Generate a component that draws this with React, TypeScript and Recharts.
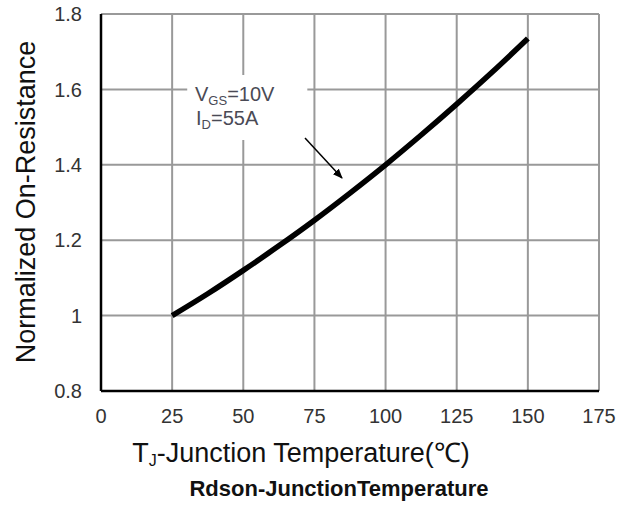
import { CartesianGrid, Line, LineChart, ReferenceArea, XAxis, YAxis } from "recharts";

const temps = [25, 37.5, 50, 62.5, 75, 87.5, 100, 112.5, 125, 137.5, 150];
const rdsOn = [1.0, 1.058, 1.12, 1.185, 1.253, 1.325, 1.4, 1.479, 1.561, 1.646, 1.735];
const xTicks = [0, 25, 50, 75, 100, 125, 150, 175];
const yTicks = [0.8, 1, 1.2, 1.4, 1.6, 1.8];

const data = temps.map((t, i) => ({ t, r: rdsOn[i] }));

const font = "'Liberation Sans', Arial, sans-serif";
const tickStyle = { fill: "#333", fontSize: 20, fontFamily: font };

export default function App() {
  return (
    <div style={{ position: "absolute", left: 0, top: 0, width: 633, height: 507, background: "#fff" }}>
      <LineChart width={633} height={507} data={data} margin={{ top: 14, right: 34, bottom: 76, left: 0 }}>
        <CartesianGrid stroke="#999" strokeWidth={2} />
        <XAxis
          dataKey="t"
          type="number"
          domain={[0, 175]}
          ticks={xTicks}
          height={40}
          tickSize={0}
          tickMargin={18}
          tick={tickStyle}
          axisLine={{ stroke: "#000", strokeWidth: 2.5 }}
          tickLine={false}
        />
        <YAxis
          type="number"
          domain={[0.8, 1.8]}
          ticks={yTicks}
          width={101}
          tickSize={0}
          tickMargin={19}
          tick={tickStyle}
          axisLine={{ stroke: "#000", strokeWidth: 2.5 }}
          tickLine={false}
        />
        <ReferenceArea x1={30.3} x2={72.5} y1={1.466} y2={1.638} fill="#fff" fillOpacity={1} stroke="none" />
        <Line
          dataKey="r"
          type="monotone"
          stroke="#000"
          strokeWidth={5.5}
          dot={false}
          isAnimationActive={false}
        />
      </LineChart>
      <svg width={633} height={507} style={{ position: "absolute", left: 0, top: 0, pointerEvents: "none" }}>
        <defs>
          <marker id="arr" markerWidth="10" markerHeight="8" refX="9" refY="4" orient="auto" markerUnits="userSpaceOnUse">
            <path d="M0,0 L10,4 L0,8 Z" fill="#000" />
          </marker>
        </defs>
        <text x={195} y={101} fontSize={20} fontFamily={font} fill="#4a4a55">
          V<tspan fontSize={13} dy={4}>GS</tspan>
          <tspan dy={-4}>=10V</tspan>
        </text>
        <text x={196} y={125} fontSize={20} fontFamily={font} fill="#4a4a55">
          I<tspan fontSize={13} dy={4}>D</tspan>
          <tspan dy={-4}>=55A</tspan>
        </text>
        <line x1={305} y1={138} x2={342} y2={178} stroke="#000" strokeWidth={1.5} markerEnd="url(#arr)" />
        <text transform="translate(35,202) rotate(-90)" textAnchor="middle" fontSize={27} fontFamily={font} fill="#111">
          Normalized On-Resistance
        </text>
        <text x={301} y={462} textAnchor="middle" fontSize={27} fontFamily={font} fill="#111">
          T<tspan fontSize={16} dy={4}>J</tspan>
          <tspan dy={-4}>-Junction Temperature(℃)</tspan>
        </text>
        <text x={339} y={496} textAnchor="middle" fontSize={22} fontWeight="bold" fontFamily={font} fill="#111">
          Rdson-JunctionTemperature
        </text>
      </svg>
    </div>
  );
}
